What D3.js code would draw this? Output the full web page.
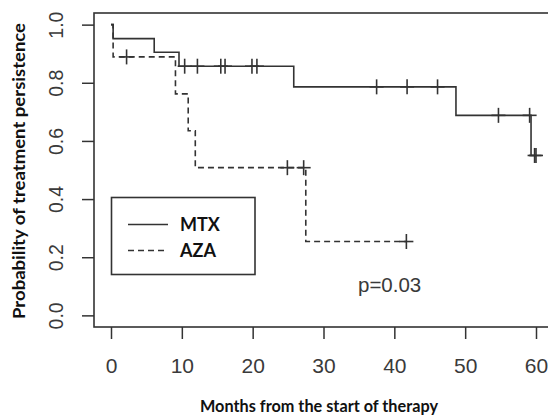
<!DOCTYPE html>
<html>
<head>
<meta charset="utf-8">
<script src="https://cdn.jsdelivr.net/npm/d3@7"></script>
<style>
  html, body { margin: 0; padding: 0; background: #fff; }
  svg { display: block; }
</style>
</head>
<body>
<svg id="chart" width="548" height="419"></svg>
<script>
// Kaplan-Meier step curves: time (months) and survival level after each step
const mtxTimes = [0, 0.3, 6.1, 9.6, 25.8, 48.7, 59.3, 60.0];
const mtxSurv  = [1.0, 0.952, 0.905, 0.857, 0.786, 0.688, 0.55, 0.55];
const azaTimes = [0, 0.3, 9.1, 10.9, 11.9, 27.5, 41.7];
const azaSurv  = [1.0, 0.889, 0.762, 0.635, 0.508, 0.254, 0.254];

// Censoring marks (time, level)
const mtxCensorTimes = [10.4, 12.2, 15.5, 16.1, 19.9, 20.6, 37.5, 41.8, 46.1, 54.7, 59.1, 59.8, 60.0];
const mtxCensorSurv  = [0.857, 0.857, 0.857, 0.857, 0.857, 0.857, 0.786, 0.786, 0.786, 0.688, 0.688, 0.55, 0.55];
const azaCensorTimes = [2.2, 24.9, 27.2, 41.7];
const azaCensorSurv  = [0.889, 0.508, 0.508, 0.254];

const xTicks = [0, 10, 20, 30, 40, 50, 60];
const yTicks = [0, 0.2, 0.4, 0.6, 0.8, 1.0];
const seriesNames = ["MTX", "AZA"];
const pValueLabel = "p=0.03";
const xTitle = "Months from the start of therapy";
const yTitle = "Probability of treatment persistence";

const svg = d3.select("#chart");
const ink = "#333";

const x = d3.scaleLinear().domain([-2.4, 62.4]).range([94, 553]);
const y = d3.scaleLinear().domain([-0.04, 1.04]).range([327, 13]);

// Plot frame
svg.append("rect")
  .attr("x", x(-2.4)).attr("y", y(1.04))
  .attr("width", x(62.4) - x(-2.4)).attr("height", y(-0.04) - y(1.04))
  .attr("fill", "none").attr("stroke", ink).attr("stroke-width", 1.6);

// Axes
const xAxis = svg.append("g")
  .attr("transform", `translate(0,${y(-0.04)})`)
  .call(d3.axisBottom(x).tickValues(xTicks).tickSize(12).tickPadding(19).tickFormat(d3.format("d")));
xAxis.select(".domain").remove();
xAxis.selectAll("line").attr("stroke", ink).attr("stroke-width", 1.5);
xAxis.selectAll("text")
  .attr("fill", "#3a3a3a")
  .style("font-family", "'Liberation Sans', Arial, sans-serif")
  .style("font-size", "21px");

const yAxis = svg.append("g")
  .attr("transform", `translate(${x(-2.4)},0)`)
  .call(d3.axisLeft(y).tickValues(yTicks).tickSize(12).tickFormat(d3.format(".1f")));
yAxis.select(".domain").remove();
yAxis.selectAll("line").attr("stroke", ink).attr("stroke-width", 1.5);
yAxis.selectAll("text")
  .attr("x", 0).attr("y", -31).attr("dy", null)
  .attr("transform", "rotate(-90)")
  .attr("text-anchor", "middle")
  .attr("fill", "#3a3a3a")
  .style("font-family", "'Liberation Sans', Arial, sans-serif")
  .style("font-size", "19.5px");

// Survival step curves
const stepLine = d3.line().x(d => x(d[0])).y(d => y(d[1])).curve(d3.curveStepAfter);

function drawCurve(times, surv, dash) {
  svg.append("path")
    .datum(times.map((t, i) => [t, surv[i]]))
    .attr("d", stepLine)
    .attr("fill", "none")
    .attr("stroke", ink)
    .attr("stroke-width", 1.6)
    .attr("stroke-dasharray", dash);
}
drawCurve(mtxTimes, mtxSurv, null);
drawCurve(azaTimes, azaSurv, "6,4");

function drawCensor(times, surv) {
  const g = svg.append("g").attr("stroke", ink).attr("stroke-width", 1.6);
  times.forEach((t, i) => {
    const cx = x(t), cy = y(surv[i]);
    g.append("line").attr("x1", cx).attr("x2", cx).attr("y1", cy - 7.5).attr("y2", cy + 7.5);
    g.append("line").attr("x1", cx - 7).attr("x2", cx + 7).attr("y1", cy).attr("y2", cy);
  });
}
drawCensor(mtxCensorTimes, mtxCensorSurv);
drawCensor(azaCensorTimes, azaCensorSurv);

// Legend
const legend = svg.append("g");
legend.append("rect")
  .attr("x", 111.5).attr("y", 197.5).attr("width", 143.5).attr("height", 77)
  .attr("fill", "#fff").attr("stroke", ink).attr("stroke-width", 1.6);
const legendDash = [null, "6,4"];
const legendRowY = [224.5, 250.5];
seriesNames.forEach((name, i) => {
  legend.append("line")
    .attr("x1", 128).attr("x2", 168).attr("y1", legendRowY[i]).attr("y2", legendRowY[i])
    .attr("stroke", ink).attr("stroke-width", 1.6).attr("stroke-dasharray", legendDash[i]);
  legend.append("text")
    .attr("x", 180).attr("y", legendRowY[i] + 6.5)
    .attr("fill", "#111")
    .style("font-family", "Lato, 'Open Sans', sans-serif")
    .style("font-weight", "bold")
    .style("font-size", "18px")
    .text(name);
});

// p-value annotation
svg.append("text")
  .attr("x", 358).attr("y", 292)
  .attr("fill", "#3a3a3a")
  .style("font-family", "'Liberation Sans', Arial, sans-serif")
  .style("font-size", "20.5px")
  .text(pValueLabel);

// Axis titles
svg.append("text")
  .attr("x", 319).attr("y", 412)
  .attr("text-anchor", "middle")
  .attr("textLength", 238).attr("lengthAdjust", "spacingAndGlyphs")
  .attr("fill", "#111")
  .style("font-family", "Lato, 'Open Sans', sans-serif")
  .style("font-weight", "bold")
  .style("font-size", "17px")
  .text(xTitle);

svg.append("text")
  .attr("transform", "translate(25,171) rotate(-90)")
  .attr("text-anchor", "middle")
  .attr("textLength", 296).attr("lengthAdjust", "spacingAndGlyphs")
  .attr("fill", "#111")
  .style("font-family", "Lato, 'Open Sans', sans-serif")
  .style("font-weight", "bold")
  .style("font-size", "17px")
  .text(yTitle);
</script>
</body>
</html>
